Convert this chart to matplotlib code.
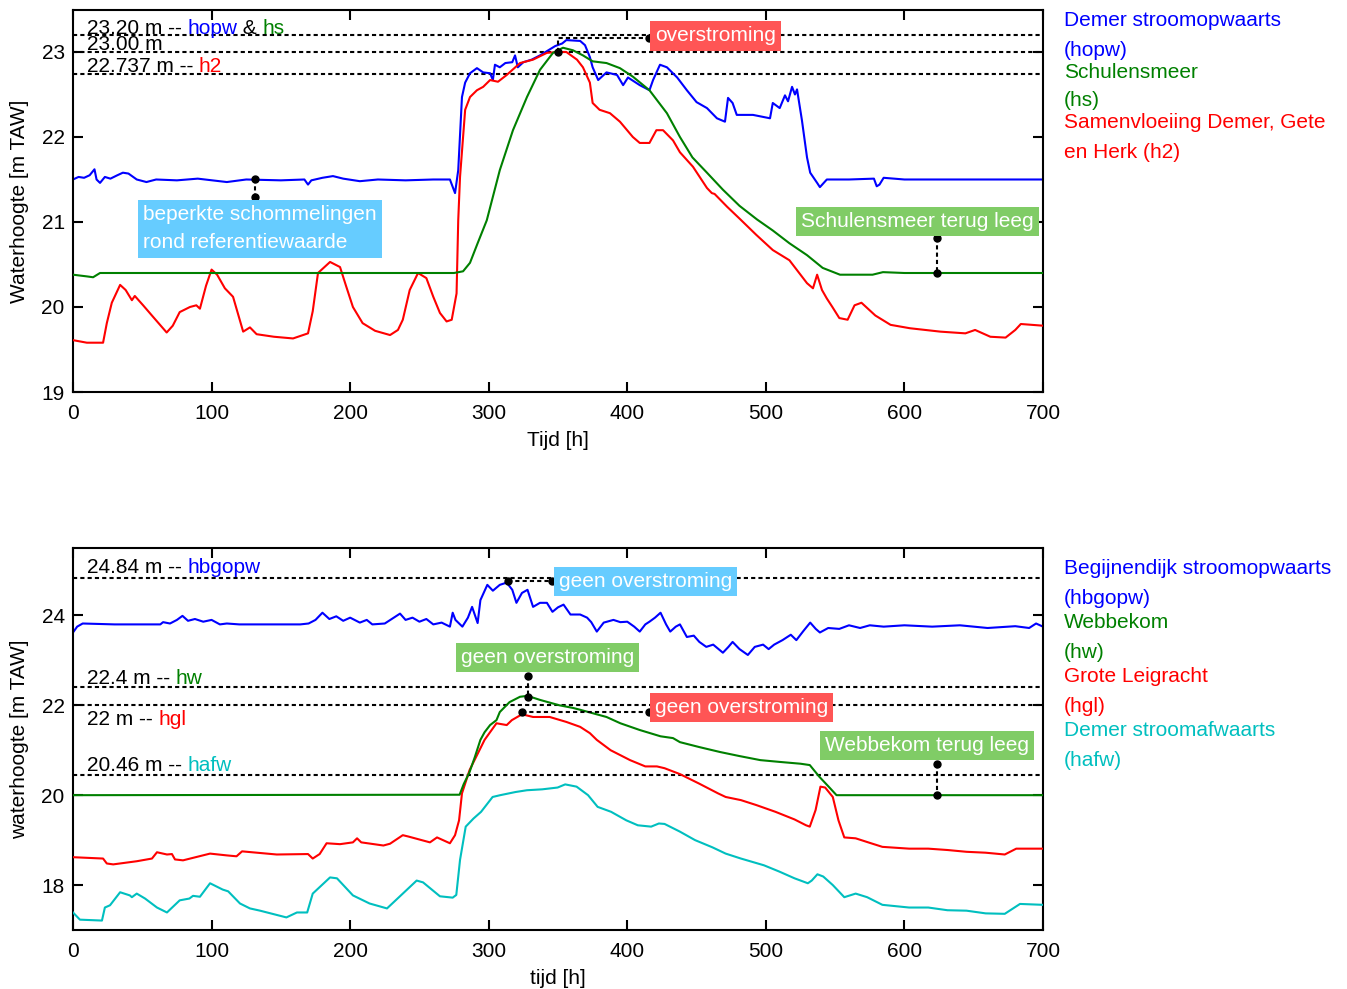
import matplotlib
matplotlib.use("Agg")
import matplotlib.pyplot as plt
import numpy as np

plt.rcParams['font.family'] = ['Liberation Sans', 'DejaVu Sans']
plt.rcParams['font.size'] = 15

# ---- bovenste grafiek: Demer / Schulensmeer ----
t_hopw = [0, 4, 8, 12, 15.5, 17, 19.5, 23, 27, 32, 36, 40, 46, 53, 60, 75, 90, 111, 125, 150,
          167, 169.6, 172, 180, 187.6, 195, 207, 220, 240, 260, 272, 275.7, 278, 280.7, 283,
          286.5, 291.5, 296, 301, 303, 304.5, 308, 312, 317, 319, 321, 325, 331, 337, 344, 348,
          353, 356, 366, 369.5, 373, 375, 379, 385, 392.6, 397, 400.5, 409, 416, 418.6, 423.6,
          428.6, 436, 443, 450, 457.5, 464.7, 470.5, 472.7, 476, 479, 490.7, 503, 505, 510,
          513.8, 516, 518.9, 521, 522.5, 526, 529.7, 532, 537, 539, 544, 560, 578, 580, 582,
          585, 600, 650, 700]
h_hopw = [21.50, 21.53, 21.52, 21.55, 21.62, 21.50, 21.46, 21.53, 21.51, 21.55, 21.58, 21.57,
          21.50, 21.47, 21.50, 21.49, 21.51, 21.47, 21.50, 21.49, 21.50, 21.44, 21.49, 21.52,
          21.54, 21.51, 21.48, 21.50, 21.49, 21.50, 21.50, 21.34, 21.61, 22.47, 22.64, 22.75,
          22.81, 22.76, 22.75, 22.67, 22.85, 22.82, 22.87, 22.88, 22.96, 22.82, 22.88, 22.91,
          22.96, 23.03, 23.07, 23.10, 23.14, 23.13, 23.08, 22.94, 22.82, 22.67, 22.76, 22.73,
          22.61, 22.70, 22.61, 22.55, 22.67, 22.85, 22.82, 22.70, 22.55, 22.41, 22.34, 22.22,
          22.18, 22.46, 22.40, 22.26, 22.26, 22.22, 22.40, 22.34, 22.49, 22.42, 22.59, 22.50,
          22.56, 22.20, 21.76, 21.58, 21.46, 21.41, 21.50, 21.50, 21.51, 21.42, 21.44, 21.52,
          21.50, 21.50, 21.50]

t_hs = [0, 10, 14.5, 19.5, 100, 200, 275, 281.5, 286.5, 292, 298.6, 308, 317.5, 327.6, 337,
        346.4, 353.6, 360.8, 368, 375, 385, 394.7, 404, 416, 428.6, 438, 447, 457.5, 469, 481,
        493.6, 505, 517, 529.7, 541, 553.5, 577, 584.5, 600, 700]
h_hs = [20.38, 20.36, 20.35, 20.40, 20.40, 20.40, 20.40, 20.42, 20.52, 20.75, 21.02, 21.61,
        22.08, 22.47, 22.79, 22.99, 23.05, 23.02, 22.96, 22.89, 22.87, 22.81, 22.71, 22.55,
        22.28, 22.00, 21.76, 21.58, 21.38, 21.19, 21.03, 20.90, 20.75, 20.61, 20.46, 20.38,
        20.38, 20.41, 20.40, 20.40]

t_h2 = [0, 10, 21.7, 24.4, 28, 34, 38, 42.5, 44.6, 50.6, 58, 67.6, 72, 77, 84.4, 89, 91.6, 96,
        100, 104, 109.6, 115.5, 122.8, 127.7, 132.5, 145, 158.8, 169.6, 173, 176.8, 185.5,
        192.7, 197, 202, 209, 218, 228.8, 234.5, 238, 243, 249, 255, 260, 264.8, 269.6, 273.3,
        276.8, 278, 279.3, 283, 286.5, 291.5, 296, 301, 306.7, 313, 322.6, 332, 342, 350, 356,
        363.7, 368, 373, 375, 380, 387.5, 394.7, 404, 409, 416, 421, 425.8, 433, 438, 447.4,
        457.5, 461, 463, 472, 481, 493, 505, 517, 529.7, 534, 537, 540.5, 544, 548, 553, 559,
        564, 569, 579, 590, 604, 626, 644, 651, 662, 673, 680, 684, 700]
h_h2 = [19.61, 19.58, 19.58, 19.81, 20.05, 20.26, 20.20, 20.08, 20.13, 20.02, 19.88, 19.70,
        19.78, 19.94, 20.00, 20.02, 19.98, 20.25, 20.44, 20.38, 20.22, 20.12, 19.71, 19.76,
        19.68, 19.65, 19.63, 19.69, 19.95, 20.40, 20.53, 20.47, 20.25, 20.00, 19.81, 19.72,
        19.67, 19.73, 19.85, 20.20, 20.40, 20.34, 20.12, 19.93, 19.83, 19.85, 20.16, 21.02,
        21.53, 22.32, 22.47, 22.55, 22.59, 22.67, 22.65, 22.73, 22.87, 22.91, 22.99, 23.00,
        23.00, 22.91, 22.82, 22.64, 22.40, 22.32, 22.28, 22.18, 22.00, 21.93, 21.93, 22.08,
        22.08, 21.96, 21.82, 21.65, 21.40, 21.34, 21.33, 21.18, 21.04, 20.85, 20.67, 20.55,
        20.28, 20.22, 20.38, 20.20, 20.10, 20.00, 19.87, 19.85, 20.02, 20.05, 19.90, 19.79,
        19.75, 19.71, 19.69, 19.73, 19.65, 19.64, 19.73, 19.80, 19.78]

# ---- onderste grafiek: Begijnendijk / Webbekom ----
t_hbgopw = [0, 3, 7, 30, 63, 65, 70, 75, 79, 83, 88, 94, 100, 106, 111, 120, 164, 170, 175,
            180, 185, 190, 195, 200, 207, 212, 216, 225, 230, 236, 240, 245, 250, 255, 260, 266,
            272, 274, 276, 281, 285, 288, 292, 294, 299, 303, 308, 313, 317, 320, 324, 328, 332,
            337, 342, 346, 350, 354, 359, 366, 371, 374, 378, 383, 390, 395, 400, 405, 409, 413,
            416, 420, 424, 428, 431, 435, 438, 443, 448, 452, 457, 462, 469, 473, 476, 481, 487,
            492, 498, 502, 506, 512, 518, 522, 527, 532, 536, 539, 545, 553, 560, 568, 575, 585,
            600, 620, 640, 660, 680, 690, 695, 700]
h_hbgopw = [23.62, 23.75, 23.82, 23.80, 23.80, 23.85, 23.82, 23.90, 23.99, 23.88, 23.92, 23.86,
            23.90, 23.80, 23.82, 23.80, 23.80, 23.82, 23.90, 24.06, 23.92, 23.98, 23.88, 23.95,
            23.84, 23.90, 23.80, 23.82, 23.92, 24.04, 23.90, 23.95, 23.86, 23.92, 23.80, 23.84,
            23.75, 24.06, 23.90, 23.75, 23.95, 24.19, 23.83, 24.34, 24.68, 24.55, 24.68, 24.73,
            24.57, 24.28, 24.50, 24.57, 24.19, 24.28, 24.28, 24.08, 24.18, 24.24, 24.02, 24.02,
            23.95, 23.85, 23.64, 23.84, 23.90, 23.85, 23.86, 23.75, 23.64, 23.80, 23.86, 23.95,
            24.06, 23.80, 23.64, 23.75, 23.80, 23.52, 23.55, 23.41, 23.30, 23.35, 23.17, 23.30,
            23.41, 23.25, 23.12, 23.30, 23.35, 23.25, 23.35, 23.45, 23.57, 23.45, 23.65, 23.84,
            23.70, 23.62, 23.72, 23.70, 23.78, 23.72, 23.78, 23.75, 23.78, 23.75, 23.78, 23.72,
            23.76, 23.72, 23.82, 23.75]

t_hw = [0, 279, 282, 286, 290, 294, 297, 301, 305.6, 308, 315, 322.6, 328, 337, 351, 361, 366,
        385, 395, 409, 424, 433, 438, 452, 467, 481, 496, 510, 525, 531.7, 538.6, 545, 551, 700]
h_hw = [20.00, 20.01, 20.25, 20.50, 20.85, 21.23, 21.40, 21.56, 21.67, 21.85, 22.07, 22.19,
        22.21, 22.12, 22.00, 21.94, 21.90, 21.74, 21.60, 21.45, 21.31, 21.27, 21.18, 21.07,
        20.96, 20.87, 20.78, 20.74, 20.70, 20.67, 20.41, 20.20, 20.00, 20.00]

t_hgl = [0, 21.7, 24.4, 29, 46, 57, 60.6, 67.8, 71.4, 73.6, 79.4, 98.9, 111, 118, 122, 147,
         169.6, 173, 178, 183, 192.7, 202, 205, 208, 224, 228.8, 238, 242, 257.6, 262.7, 272,
         275.7, 278.6, 280.7, 286.2, 291.7, 297, 305.6, 313, 316.7, 324, 332, 344, 356, 366,
         373, 378, 388, 395, 402, 413, 421.4, 426.9, 437.9, 451.7, 465.5, 471, 482, 493.1,
         506.9, 520.7, 529, 531.7, 535.9, 539.4, 542.8, 548.3, 552.4, 556.6, 564.8, 575.9,
         584.1, 603.4, 617.2, 631, 644.8, 658.6, 672.4, 680.7, 700]
h_hgl = [18.62, 18.59, 18.48, 18.46, 18.53, 18.59, 18.73, 18.68, 18.69, 18.57, 18.55, 18.70,
         18.66, 18.64, 18.75, 18.68, 18.69, 18.59, 18.69, 18.93, 18.91, 18.95, 19.04, 18.95,
         18.88, 18.92, 19.11, 19.08, 18.95, 19.06, 18.93, 19.11, 19.44, 20.04, 20.56, 20.90,
         21.23, 21.60, 21.56, 21.67, 21.80, 21.74, 21.74, 21.63, 21.52, 21.38, 21.23, 21.00,
         20.89, 20.78, 20.64, 20.64, 20.60, 20.47, 20.26, 20.04, 19.96, 19.89, 19.78, 19.63,
         19.46, 19.33, 19.30, 19.67, 20.19, 20.17, 19.96, 19.44, 19.06, 19.04, 18.93, 18.85,
         18.81, 18.81, 18.78, 18.74, 18.72, 18.68, 18.81, 18.81]

t_hafw = [0, 5, 20.9, 23, 26.7, 34, 41, 42.5, 46, 52, 60.6, 67.8, 77, 84, 86.6, 91.6, 98.9,
          108, 112, 120.5, 127.7, 135, 154, 161.6, 169, 173, 185.5, 190.5, 202, 214, 226.6, 238,
          248, 252.6, 264.8, 274, 276.6, 279.3, 283.4, 289, 294.5, 302.8, 308.3, 319.3, 327.6,
          338.6, 349.7, 355.2, 363.4, 371.7, 378.6, 388.3, 399.3, 407.6, 417.2, 422.8, 426.9,
          437.9, 448.9, 461.4, 471, 482, 498.6, 509.7, 520.7, 530.3, 533.1, 537.2, 541.4, 548.3,
          556.6, 564.8, 573.1, 584.1, 603.4, 617.2, 631, 644.8, 658.6, 672.4, 683.4, 700]
h_hafw = [17.39, 17.23, 17.21, 17.50, 17.55, 17.84, 17.77, 17.73, 17.81, 17.70, 17.50, 17.39,
          17.66, 17.70, 17.76, 17.74, 18.04, 17.90, 17.86, 17.59, 17.48, 17.43, 17.28, 17.39,
          17.39, 17.81, 18.17, 18.15, 17.77, 17.59, 17.48, 17.81, 18.10, 18.06, 17.75, 17.72,
          17.78, 18.56, 19.30, 19.48, 19.63, 19.96, 20.00, 20.07, 20.11, 20.13, 20.17, 20.24,
          20.19, 20.00, 19.74, 19.63, 19.44, 19.33, 19.30, 19.37, 19.36, 19.19, 19.00, 18.84,
          18.70, 18.59, 18.44, 18.30, 18.15, 18.04, 18.10, 18.24, 18.19, 18.00, 17.73, 17.81,
          17.73, 17.56, 17.50, 17.50, 17.44, 17.43, 17.37, 17.36, 17.58, 17.56]

drempel_top = [23.20, 23.00, 22.737]
drempel_bot = [24.84, 22.4, 22.0, 20.46]

legend_top = [("Demer stroomopwaarts", "(hopw)", "#0000ff"),
              ("Schulensmeer", "(hs)", "#008000"),
              ("Samenvloeiing Demer, Gete", "en Herk (h2)", "#ff0000")]
legend_bot = [("Begijnendijk stroomopwaarts", "(hbgopw)", "#0000ff"),
              ("Webbekom", "(hw)", "#008000"),
              ("Grote Leigracht", "(hgl)", "#ff0000"),
              ("Demer stroomafwaarts", "(hafw)", "#00bfbf")]

BLAUW = "#0000ff"
GROEN = "#008000"
ROOD = "#ff0000"
CYAAN = "#00bfbf"
DASH = (0, (2, 1.5))
W, H = 1347, 989


def opmaak(ax, ylim, yticks, xlabel, ylabel):
    ax.set_xlim(0, 700)
    ax.set_ylim(*ylim)
    ax.set_xticks(np.arange(0, 701, 100))
    ax.set_yticks(yticks)
    ax.tick_params(direction='in', length=7, width=1.5, top=True, right=True,
                   labelsize=15, pad=6)
    ax.tick_params(axis='x', pad=8.5)
    for s in ax.spines.values():
        s.set_linewidth(1.5)
    ax.set_xlabel(xlabel, fontsize=15)
    ax.set_ylabel(ylabel, fontsize=15)
    ax.xaxis.set_label_coords(0.5, -0.103)
    ax.yaxis.set_label_coords(-0.045, 0.5)


def verbinding(ax, xs, ys):
    ax.plot(xs, ys, color='k', ls=DASH, lw=1.5, zorder=5)
    ax.plot([xs[0], xs[-1]], [ys[0], ys[-1]], 'ko', ms=5, zorder=6)


def label(ax, x, y, s, kleur):
    ax.text(x, y, s, color='w', ha='left', va='center', fontsize=15, linespacing=1.62,
            bbox=dict(boxstyle='square,pad=0.25', fc=kleur, ec='none'), zorder=7)


def drempel_label(ax, y, stukken):
    # stukken: lijst van (tekst, kleur), achter elkaar op een regel
    vorige = ax.text(10, y, stukken[0][0], color=stukken[0][1], va='baseline', fontsize=15)
    for s, kl in stukken[1:]:
        vorige = ax.annotate(s, xy=(1, 0), xycoords=vorige, va='bottom', ha='left',
                             fontsize=15, color=kl)


fig = plt.figure(figsize=(W / 100, H / 100), dpi=100)
ax1 = fig.add_axes([73 / W, 1 - 392 / H, 970 / W, 382 / H])
ax2 = fig.add_axes([73 / W, 1 - 930 / H, 970 / W, 382 / H])

# bovenste
for d in drempel_top:
    ax1.axhline(d, color='k', ls=DASH, lw=1.5, zorder=1)
ax1.plot(t_h2, h_h2, color=ROOD, lw=1.5, zorder=3)
ax1.plot(t_hs, h_hs, color=GROEN, lw=1.5, zorder=3)
ax1.plot(t_hopw, h_hopw, color=BLAUW, lw=1.5, zorder=2)

drempel_label(ax1, 23.215, [("23.20 m -- ", 'k'), ("hopw", BLAUW), (" & ", 'k'), ("hs", GROEN)])
drempel_label(ax1, 23.024, [("23.00 m", 'k')])
drempel_label(ax1, 22.764, [("22.737 m -- ", 'k'), ("h2", ROOD)])

verbinding(ax1, [350, 350, 416], [23.0, 23.165, 23.165])
label(ax1, 420, 23.19, "overstroming", "#ff5555")
verbinding(ax1, [131.3, 131.3], [21.5, 21.29])
label(ax1, 50.5, 20.92, "beperkte schommelingen\nrond referentiewaarde", "#66ccff")
verbinding(ax1, [623.5, 623.5], [20.81, 20.4])
label(ax1, 525.4, 21.006, "Schulensmeer terug leeg", "#80cc66")

opmaak(ax1, (19, 23.494), [19, 20, 21, 22, 23], "Tijd [h]", "Waterhoogte [m TAW]")

# onderste
for d in drempel_bot:
    ax2.axhline(d, color='k', ls=DASH, lw=1.5, zorder=1)
ax2.plot(t_hafw, h_hafw, color=CYAAN, lw=1.5, zorder=3)
ax2.plot(t_hgl, h_hgl, color=ROOD, lw=1.5, zorder=3)
ax2.plot(t_hw, h_hw, color=GROEN, lw=1.5, zorder=3)
ax2.plot(t_hbgopw, h_hbgopw, color=BLAUW, lw=1.5, zorder=2)

drempel_label(ax2, 24.95, [("24.84 m -- ", 'k'), ("hbgopw", BLAUW)])
drempel_label(ax2, 22.47, [("22.4 m -- ", 'k'), ("hw", GROEN)])
drempel_label(ax2, 21.56, [("22 m -- ", 'k'), ("hgl", ROOD)])
drempel_label(ax2, 20.535, [("20.46 m -- ", 'k'), ("hafw", CYAAN)])

verbinding(ax2, [314, 346], [24.77, 24.77])
label(ax2, 350.7, 24.76, "geen overstroming", "#66ccff")
verbinding(ax2, [328.4, 328.4], [22.65, 22.19])
label(ax2, 280, 23.06, "geen overstroming", "#80cc66")
verbinding(ax2, [324, 416], [21.85, 21.85])
label(ax2, 420, 21.95, "geen overstroming", "#ff5555")
verbinding(ax2, [623.5, 623.5], [20.69, 20.0])
label(ax2, 542.7, 21.10, "Webbekom terug leeg", "#80cc66")

opmaak(ax2, (17, 25.5), [18, 20, 22, 24], "tijd [h]", "waterhoogte [m TAW]")

# legendes rechts
for i, (r1, r2, kl) in enumerate(legend_top):
    py = 21 + 51 * i
    fig.text(1064 / W, 1 - py / H, r1, color=kl, va='center', fontsize=15)
    fig.text(1064 / W, 1 - (py + 29) / H, r2, color=kl, va='center', fontsize=15)
for i, (r1, r2, kl) in enumerate(legend_bot):
    py = 569 + 54 * i
    fig.text(1064 / W, 1 - py / H, r1, color=kl, va='center', fontsize=15)
    fig.text(1064 / W, 1 - (py + 30) / H, r2, color=kl, va='center', fontsize=15)

fig.savefig("out.png", dpi=100)
